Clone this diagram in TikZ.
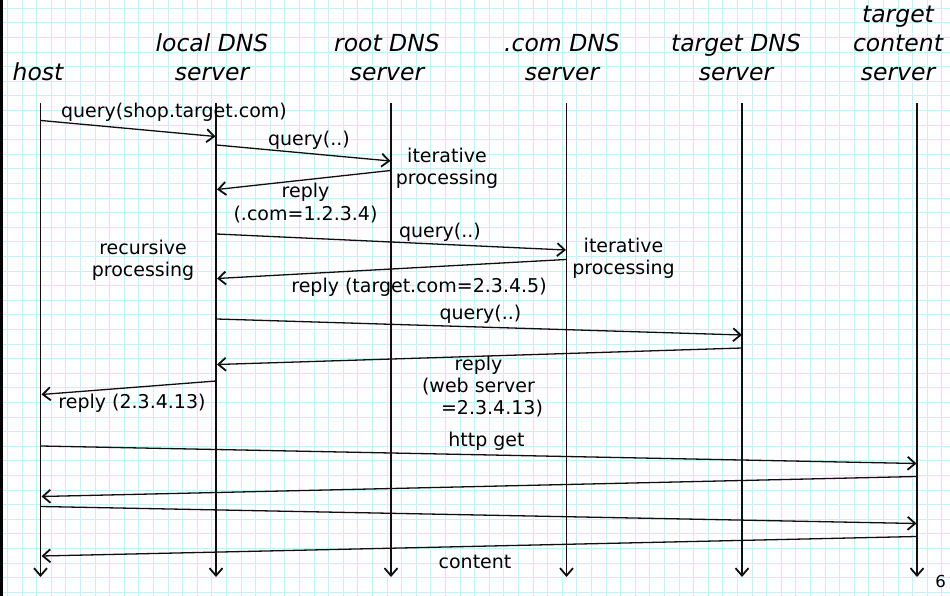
\documentclass[tikz,border=0pt]{standalone}
\usepackage{fontspec}
\setmainfont{DejaVu Sans}
\usetikzlibrary{arrows.meta}
\definecolor{gridc}{RGB}{200,240,248}
\definecolor{inkc}{RGB}{15,15,15}
\begin{document}
\begin{tikzpicture}[x=1pt,y=-1pt,
  gridline/.style={draw=gridc, line width=0.9pt},
  tipc/.style={-{Straight Barb[length=7.5pt,width=13pt,line width=1.8pt]}},
  lifeline/.style={draw=inkc, line width=1.4pt, tipc},
  msg/.style={draw=inkc, line width=1.3pt, tipc},
  head/.style={font=\fontsize{23.5}{29}\selectfont\itshape, align=center, anchor=base, inner sep=0pt},
  lbl/.style={font=\fontsize{19}{22}\selectfont, align=center, anchor=base, inner sep=0pt},
]
\useasboundingbox (0,0) rectangle (950,596);
\fill[white] (0,0) rectangle (950,596);
% grid paper
\begin{scope}
\clip (0,0) rectangle (950,596);
\foreach \i in {0,...,64} \draw[gridline] ({7.4+14.6*\i},0) -- ({7.4+14.6*\i},596);
\foreach \j in {0,...,40} \draw[gridline] (0,{8.3+14.6*\j}) -- (950,{8.3+14.6*\j});
\end{scope}
% left border
\draw[line width=2.6pt] (1.6,0) -- (1.6,596);

% headers (anchor base = baseline of last line)
\node[head] (hhost)  at (38,81)  {host};
\node[head] (hlocal) at (212,81) {local DNS\\server};
\node[head] (hroot)  at (387,81) {root DNS\\server};
\node[head] (hcom)   at (562,81) {.com DNS\\server};
\node[head] (htdns)  at (736,81) {target DNS\\server};
\node[head] (hcont)  at (898,81) {target\\content\\server};

% lifelines
\coordinate (hostT) at (40.5,103);  \coordinate (hostB) at (40.5,577);
\coordinate (locT)  at (216,103);   \coordinate (locB)  at (216,577);
\coordinate (rootT) at (391,103);   \coordinate (rootB) at (391,577);
\coordinate (comT)  at (566.5,103); \coordinate (comB)  at (566.5,577);
\coordinate (tdT)   at (742,103);   \coordinate (tdB)   at (742,577);
\coordinate (ctT)   at (917,103);   \coordinate (ctB)   at (917,577);
\foreach \a/\b in {hostT/hostB,locT/locB,rootT/rootB,comT/comB,tdT/tdB,ctT/ctB}
  \draw[lifeline] (\a) -- (\b);

% message end points
\coordinate (m1a) at (41,120.5);   \coordinate (m1b) at (215.5,136.5);
\coordinate (m2a) at (216.5,145);  \coordinate (m2b) at (390.5,161);
\coordinate (m3a) at (390.5,170.5);\coordinate (m3b) at (217,189.5);
\coordinate (m4a) at (216.5,234);  \coordinate (m4b) at (566,250);
\coordinate (m5a) at (566,259.5);  \coordinate (m5b) at (217,278.5);
\coordinate (m6a) at (216.5,319);  \coordinate (m6b) at (742,335);
\coordinate (m7a) at (742,348);    \coordinate (m7b) at (217,364.5);
\coordinate (m8a) at (216,381);    \coordinate (m8b) at (41.5,394.5);
\coordinate (m9a) at (41,446);     \coordinate (m9b) at (916.5,463.5);
\coordinate (m10a) at (916.5,476.5); \coordinate (m10b) at (41.5,496.5);
\coordinate (m11a) at (41,506.5);  \coordinate (m11b) at (916.5,523.5);
\coordinate (m12a) at (916.5,536.5); \coordinate (m12b) at (41.5,556);
\foreach \k in {1,...,12} \draw[msg] (m\k a) -- (m\k b);

% labels (anchor base = baseline of last line)
\node[lbl] (l1)  at (174,118)   {query(shop.target.com)};
\node[lbl] (l2)  at (309,146)   {query(..)};
\node[lbl] (it1) at (447,185)   {iterative\\processing};
\node[lbl] (l3)  at (305.5,220) {reply\\(.com=1.2.3.4)};
\node[lbl] (l4)  at (440,237)   {query(..)};
\node[lbl] (rec) at (143,276.5) {recursive\\processing};
\node[lbl] (it2) at (623.5,274) {iterative\\processing};
\node[lbl] (l5)  at (419,292.5) {reply (target.com=2.3.4.5)};
\node[lbl] (l6)  at (480.5,319.5){query(..)};
\node[lbl] (l7)  at (478.5,414.5){reply\\(web server\\\hspace*{27pt}=2.3.4.13)};
\node[lbl] (l8)  at (132,408)   {reply (2.3.4.13)};
\node[lbl] (l9)  at (486.5,446.5){http get};
\node[lbl] (l12) at (475,568)   {content};
\node[font=\fontsize{16.5}{18}\selectfont, anchor=base, inner sep=0pt] (pg) at (940.5,587) {6};
\end{tikzpicture}
\end{document}
